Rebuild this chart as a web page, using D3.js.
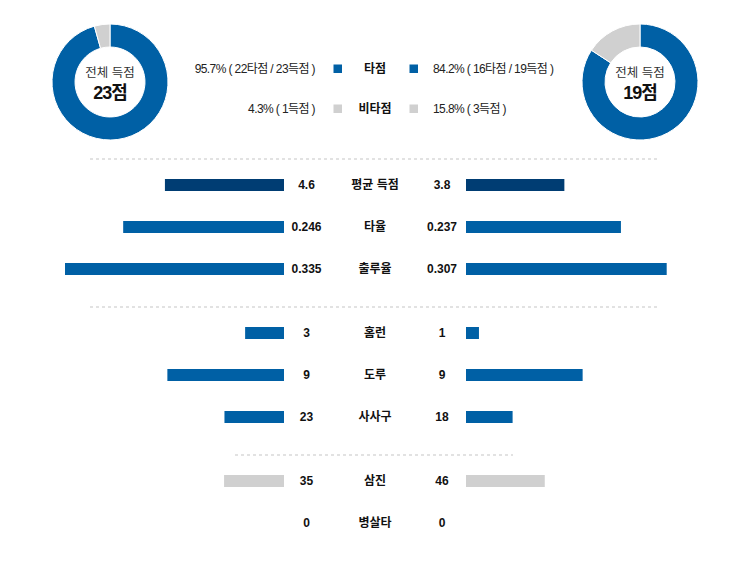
<!DOCTYPE html>
<html><head><meta charset="utf-8">
<script src="https://cdn.jsdelivr.net/npm/d3@7"></script>
<style>
body{margin:0;background:#fff;}
svg{display:block;font-family:"Liberation Sans",Arial,"Noto Sans CJK KR",sans-serif;}
</style></head>
<body><svg id="c" width="750" height="576"></svg>
<script>
// ---- data ----
const teams = ["home","away"];
const totalRuns = [23, 19];
const rbiRuns = [22, 16];
const nonRbiRuns = [1, 3];
const legendNames = ["타점", "비타점"];
const categories = ["평균 득점","타율","출루율","홈런","도루","사사구","삼진","병살타"];
const homeValues = [4.6, 0.246, 0.335, 3, 9, 23, 35, 0];
const awayValues = [3.8, 0.237, 0.307, 1, 9, 18, 46, 0];
const homeLabels = ["4.6","0.246","0.335","3","9","23","35","0"];
const awayLabels = ["3.8","0.237","0.307","1","9","18","46","0"];
const rowMax = [8.46, 0.335, 0.335, 16.9, 16.9, 84.6, 127.9, 1];
const rowGroup = [0,0,0,1,1,1,2,2];
const rowKind = ["avg","main","main","main","main","main","neg","neg"];

// ---- styles ----
const BLUE = "#0060a5", NAVY = "#003d73", GREY = "#d0d0d0";
const kindColor = {avg: NAVY, main: BLUE, neg: GREY};

const svg = d3.select("#c");

// ---- donuts ----
const pie = d3.pie().sort(null).value(d => d.v);
const arc = d3.arc().innerRadius(35).outerRadius(58);
const donutX = [110, 640];
teams.forEach((t, i) => {
  const g = svg.append("g").attr("transform", `translate(${donutX[i]},82)`);
  g.selectAll("path").data(pie([{v: rbiRuns[i], c: BLUE}, {v: nonRbiRuns[i], c: GREY}]))
    .join("path").attr("d", arc).attr("fill", d => d.data.c)
    .attr("stroke", "#fff").attr("stroke-width", 1);
  g.append("text").attr("text-anchor","middle").attr("y", -5).attr("font-size", 12.5)
    .attr("fill", "#333").text("전체 득점");
  g.append("text").attr("text-anchor","middle").attr("y", 17).attr("font-size", 18)
    .attr("font-weight","bold").attr("letter-spacing", -1).attr("fill", "#111").text(totalRuns[i] + "점");
});

// ---- legend ----
const pct = (a, b) => (a / b * 100).toFixed(1) + "%";
const legendRows = [
  {name: legendNames[0], c: BLUE,
   l: `${pct(rbiRuns[0], totalRuns[0])} ( ${rbiRuns[0]}타점 / ${totalRuns[0]}득점 )`,
   r: `${pct(rbiRuns[1], totalRuns[1])} ( ${rbiRuns[1]}타점 / ${totalRuns[1]}득점 )`},
  {name: legendNames[1], c: GREY,
   l: `${pct(nonRbiRuns[0], totalRuns[0])} ( ${nonRbiRuns[0]}득점 )`,
   r: `${pct(nonRbiRuns[1], totalRuns[1])} ( ${nonRbiRuns[1]}득점 )`}
];
legendRows.forEach((d, i) => {
  const y = 69 + i * 40;
  svg.append("text").attr("x", 315).attr("y", y).attr("dy", "0.35em").attr("text-anchor","end")
    .attr("font-size", 12).attr("letter-spacing", -0.6).attr("fill","#222").text(d.l);
  svg.append("text").attr("x", 433).attr("y", y).attr("dy", "0.35em").attr("text-anchor","start")
    .attr("font-size", 12).attr("letter-spacing", -0.6).attr("fill","#222").text(d.r);
  [333.5, 409.5].forEach(x => svg.append("rect").attr("x", x).attr("y", y - 4.5)
    .attr("width", 8.5).attr("height", 8.5).attr("fill", d.c));
  svg.append("text").attr("x", 375).attr("y", y).attr("dy", "0.35em").attr("text-anchor","middle")
    .attr("font-size", 12).attr("font-weight","bold").attr("fill","#111").text(d.name);
});

// ---- separators ----
const seps = [[90, 657, 159], [90, 657, 307], [235, 513, 455]];
seps.forEach(s => svg.append("line").attr("x1", s[0]).attr("x2", s[1]).attr("y1", s[2]).attr("y2", s[2])
  .attr("stroke", "#e2e2e2").attr("stroke-width", 2).attr("stroke-dasharray", "3,3"));

// ---- bar rows ----
const rowY = i => 185 + i * 42 + rowGroup[i] * 22;
categories.forEach((cat, i) => {
  const y = rowY(i);
  const w = d3.scaleLinear().domain([0, rowMax[i]]).range([0, 219]);
  const col = kindColor[rowKind[i]];
  const lw = w(homeValues[i]), rw = w(awayValues[i]);
  if (lw > 0) svg.append("rect").attr("x", 284 - lw).attr("y", y - 6).attr("width", lw).attr("height", 12).attr("fill", col);
  if (rw > 0) svg.append("rect").attr("x", 466).attr("y", y - 6).attr("width", rw).attr("height", 12).attr("fill", col);
  const txt = (x, s) => svg.append("text").attr("x", x).attr("y", y).attr("dy", "0.35em")
    .attr("text-anchor","middle").attr("font-size", 12).attr("font-weight","bold").attr("fill","#111").text(s);
  txt(306.5, homeLabels[i]);
  txt(442, awayLabels[i]);
  txt(375, cat);
});
</script></body></html>
